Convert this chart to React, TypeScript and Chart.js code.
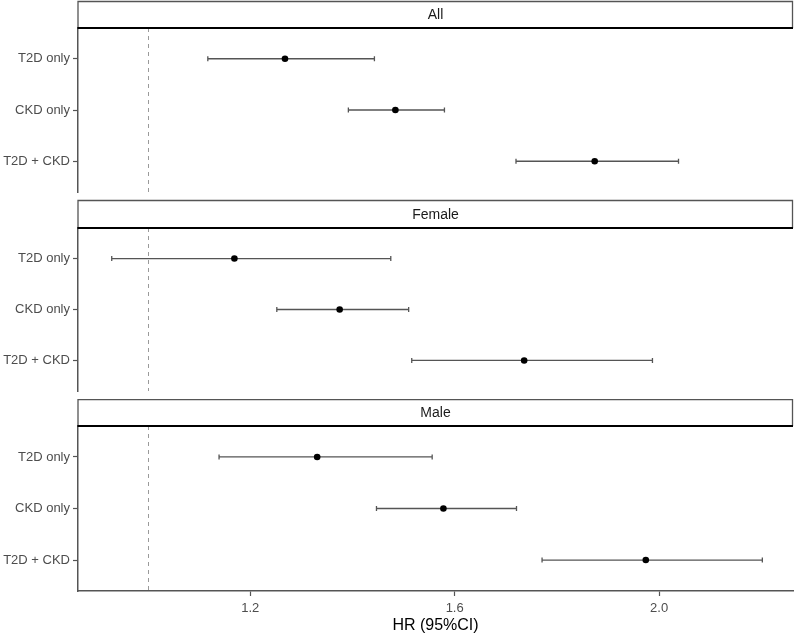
import React, { useEffect, useRef } from "react";
import { Chart, registerables } from "chart.js";
Chart.register(...registerables);

const categories = ["T2D only", "CKD only", "T2D + CKD"];
const panelNames = ["All", "Female", "Male"];

const allHR = [1.268, 1.484, 1.874];
const allLow = [1.117, 1.392, 1.72];
const allHigh = [1.443, 1.58, 2.038];

const femaleHR = [1.169, 1.375, 1.736];
const femaleLow = [0.929, 1.252, 1.516];
const femaleHigh = [1.475, 1.51, 1.987];

const maleHR = [1.331, 1.578, 1.974];
const maleLow = [1.139, 1.447, 1.771];
const maleHigh = [1.556, 1.721, 2.202];

const xTicks = [1.2, 1.6, 2.0];
const refLine = 1.0;
const xMin = 0.863;
const xMax = 2.262;
const xTitle = "HR (95%CI)";

const hrSets = [allHR, femaleHR, maleHR];
const lowSets = [allLow, femaleLow, maleLow];
const highSets = [allHigh, femaleHigh, maleHigh];

const FONT = "'Liberation Sans', Arial, sans-serif";

const layouts = [
  { top: 0, height: 196, padTop: 28, strip: 27 },
  { top: 199, height: 196, padTop: 29, strip: 28 },
  { top: 399, height: 236, padTop: 27, strip: 27 },
];

const forestPlugin = {
  id: "forest",
  beforeDatasetsDraw(chart: any) {
    const { ctx, chartArea, scales } = chart;
    const xs = scales.x;
    const ys = scales.y;
    ctx.save();
    ctx.strokeStyle = "#9a9a9a";
    ctx.lineWidth = 1;
    ctx.setLineDash([4, 4]);
    const rx = Math.round(xs.getPixelForValue(refLine)) + 0.5;
    ctx.beginPath();
    ctx.moveTo(rx, chartArea.top);
    ctx.lineTo(rx, chartArea.bottom);
    ctx.stroke();
    ctx.setLineDash([]);
    const ds = chart.data.datasets[0];
    ctx.strokeStyle = "#555555";
    ctx.lineWidth = 1.3;
    ds.data.forEach((p: any) => {
      const y = ys.getPixelForValue(p.y);
      const x1 = xs.getPixelForValue(p.lo);
      const x2 = xs.getPixelForValue(p.hi);
      ctx.beginPath();
      ctx.moveTo(x1, y);
      ctx.lineTo(x2, y);
      ctx.moveTo(x1, y - 2.5);
      ctx.lineTo(x1, y + 2.5);
      ctx.moveTo(x2, y - 2.5);
      ctx.lineTo(x2, y + 2.5);
      ctx.stroke();
    });
    ctx.restore();
  },
  afterDraw(chart: any) {
    const { ctx, chartArea } = chart;
    const opts = chart.options.plugins.forest;
    const h = opts.strip;
    const l = chartArea.left;
    const r = chartArea.right;
    const t = chartArea.top - h;
    const b = chartArea.top;
    ctx.save();
    ctx.fillStyle = "#ffffff";
    ctx.fillRect(l, t, r - l, h);
    ctx.strokeStyle = "#555555";
    ctx.lineWidth = 1.3;
    ctx.beginPath();
    ctx.moveTo(l, b);
    ctx.lineTo(l, t + 0.5);
    ctx.lineTo(r - 0.5, t + 0.5);
    ctx.lineTo(r - 0.5, b);
    ctx.stroke();
    ctx.strokeStyle = "#000000";
    ctx.lineWidth = 2;
    ctx.beginPath();
    ctx.moveTo(l - 0.5, b);
    ctx.lineTo(r, b);
    ctx.stroke();
    ctx.fillStyle = "#1a1a1a";
    ctx.font = `14px ${FONT}`;
    ctx.textAlign = "center";
    ctx.textBaseline = "middle";
    ctx.fillText(opts.label, (l + r) / 2, (t + b) / 2 + 1);
    ctx.restore();
  },
};

function makeConfig(i: number): any {
  const isLast = i === panelNames.length - 1;
  const data = hrSets[i].map((v, k) => ({ x: v, y: k + 1, lo: lowSets[i][k], hi: highSets[i][k] }));
  return {
    type: "scatter",
    data: {
      datasets: [
        {
          data,
          pointRadius: 3.3,
          pointBackgroundColor: "#000000",
          pointBorderWidth: 0,
          showLine: false,
        },
      ],
    },
    plugins: [forestPlugin],
    options: {
      responsive: false,
      animation: false,
      events: [],
      layout: { autoPadding: false, padding: { top: layouts[i].padTop, bottom: isLast ? 0 : 4, left: 0, right: 3 } },
      plugins: {
        legend: { display: false },
        tooltip: { enabled: false },
        forest: { label: panelNames[i], strip: layouts[i].strip },
      },
      scales: {
        x: {
          type: "linear",
          display: isLast,
          min: xMin,
          max: xMax,
          afterBuildTicks: (s: any) => {
            s.ticks = xTicks.map((v) => ({ value: v }));
          },
          afterFit: (s: any) => {
            s.height = isLast ? 44 : 0;
            s.paddingLeft = 0;
            s.paddingRight = 0;
          },
          ticks: {
            callback: (v: any) => Number(v).toFixed(1),
            font: { family: FONT, size: 13 },
            color: "#4d4d4d",
            padding: 5,
            maxRotation: 0,
          },
          grid: { drawOnChartArea: false, drawTicks: true, tickLength: 5, tickColor: "#555555", tickWidth: 1.2 },
          border: { display: true, color: "#555555", width: 1.5 },
          title: {
            display: true,
            text: xTitle,
            font: { family: FONT, size: 16 },
            color: "#000000",
            padding: { top: 0, bottom: 0 },
          },
        },
        y: {
          type: "linear",
          min: 0.4,
          max: 3.6,
          reverse: true,
          afterBuildTicks: (s: any) => {
            s.ticks = categories.map((_, k) => ({ value: k + 1 }));
          },
          afterFit: (s: any) => {
            s.width = 78;
            s.paddingTop = 0;
            s.paddingBottom = 0;
          },
          ticks: {
            callback: (v: any) => categories[Math.round(Number(v)) - 1],
            font: { family: FONT, size: 13 },
            color: "#4d4d4d",
            padding: 3,
          },
          grid: { drawOnChartArea: false, drawTicks: true, tickLength: 5, tickColor: "#555555", tickWidth: 1.2 },
          border: { display: true, color: "#555555", width: 1.5 },
        },
      },
    },
  };
}

export default function App() {
  const refs = [useRef<HTMLCanvasElement>(null), useRef<HTMLCanvasElement>(null), useRef<HTMLCanvasElement>(null)];
  useEffect(() => {
    const charts = refs.map((r, i) => new Chart(r.current as HTMLCanvasElement, makeConfig(i)));
    return () => charts.forEach((c) => c.destroy());
  }, []);
  return (
    <div style={{ position: "absolute", left: 0, top: 0, width: 796, height: 635, background: "#fff" }}>
      {layouts.map((l, i) => (
        <canvas
          key={i}
          ref={refs[i]}
          width={796}
          height={l.height}
          style={{ position: "absolute", left: 0, top: l.top, width: 796, height: l.height }}
        />
      ))}
    </div>
  );
}
